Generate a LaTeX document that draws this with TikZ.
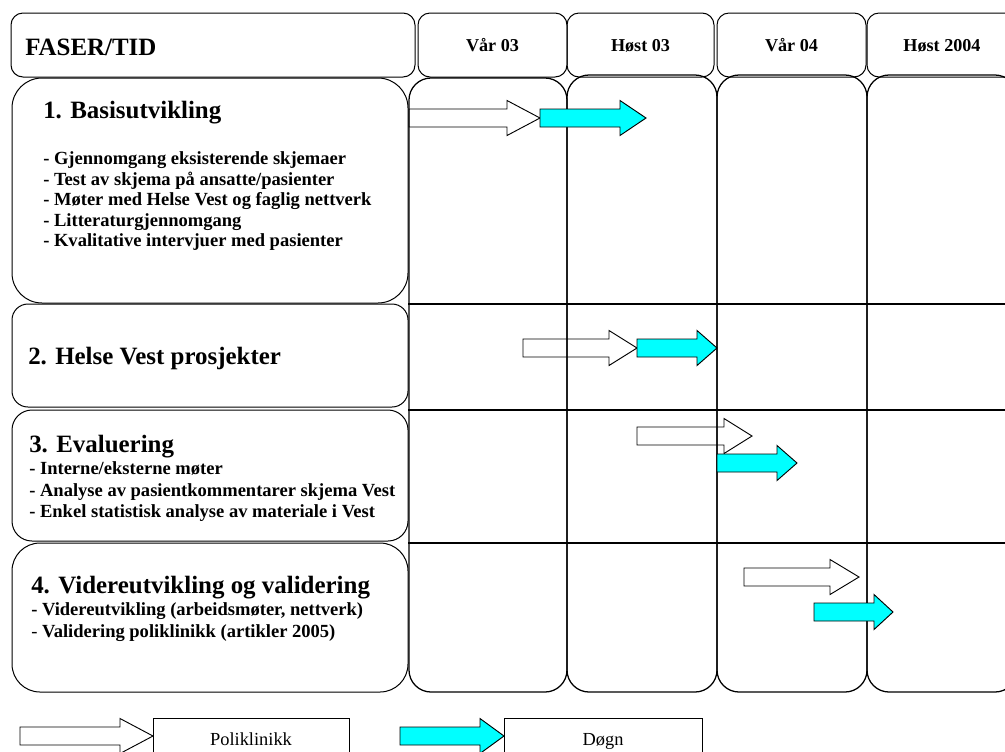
\documentclass[tikz,border=0pt]{standalone}
\usepackage{fontspec}
\setmainfont{Liberation Serif}
\definecolor{aqua}{HTML}{00FFFF}
\newcommand\pxbox[7]{\node[frame, #7, rounded corners=#6*0.75pt, minimum width={(#4-#2)*0.75pt}, minimum height={(#5-#3)*0.75pt}] (#1) at (#2,#3) {};}
\newcommand\blockarr[5]{\draw[#5] (#1,#4-9) -- (#3,#4-9) -- (#3,#4-17.5) -- (#2,#4) -- (#3,#4+17.5) -- (#3,#4+9) -- (#1,#4+9) -- cycle;}
\begin{document}
\begin{tikzpicture}[x=0.75pt,y=-0.75pt,
  frame/.style={draw, line width=0.75pt, inner sep=0pt, outer sep=0pt, anchor=north west},
  colbox/.style={line width=0.95pt},
  hdrtxt/.style={font=\fontsize{13.6}{16}\selectfont\bfseries, text height=10pt, text depth=0pt},
  headtxt/.style={font=\fontsize{18.7}{22}\selectfont\bfseries, anchor=base west, inner sep=0pt},
  bultxt/.style={font=\fontsize{13.9}{16}\selectfont\bfseries, anchor=base west, inner sep=0pt},
  legtxt/.style={font=\fontsize{13.8}{16}\selectfont, text height=9.5pt, text depth=0pt},
  rowline/.style={line width=0.8pt},
  whitearr/.style={draw, line width=0.7pt},
  cyanarr/.style={draw, line width=0.7pt, fill=aqua}]
\useasboundingbox (0,0) rectangle (1005,751);
\clip (0,0) rectangle (1005,751);
% column boxes
\pxbox{c1}{409}{78}{567}{692}{22}{colbox}
\pxbox{c2}{567}{75}{717}{692}{22}{colbox}
\pxbox{c3}{717}{75}{867}{692}{22}{colbox}
\pxbox{c4}{867}{75}{1017}{692}{22}{colbox}
% header boxes
\pxbox{h0}{11}{13}{415}{77}{12}{}
\node[frame, rounded corners=9pt, minimum width={(567-418)*0.75pt}, minimum height={64*0.75pt}, hdrtxt] (h1) at (418,13) {Vår 03};
\node[frame, rounded corners=9pt, minimum width={(714-567)*0.75pt}, minimum height={64*0.75pt}, hdrtxt] (h2) at (567,13) {Høst 03};
\node[frame, rounded corners=9pt, minimum width={(866-717)*0.75pt}, minimum height={64*0.75pt}, hdrtxt] (h3) at (717,13) {Vår 04};
\node[frame, rounded corners=9pt, minimum width={(1017-867)*0.75pt}, minimum height={64*0.75pt}, hdrtxt] (h4) at (867,13) {Høst 2004};
\node[headtxt] (ft) at (25,55) {FASER/TID};
% phase boxes
\pxbox{p1}{12}{78}{408}{303}{30}{fill=white}
\pxbox{p2}{12}{304}{408}{407}{16}{fill=white}
\pxbox{p3}{12}{410}{408}{541}{20}{fill=white}
\pxbox{p4}{12}{543}{408}{692}{28}{fill=white}
% row lines
\draw[rowline] (p2.north east) -- (p2.north east -| c4.east);
\draw[rowline] (p3.north east) -- (p3.north east -| c4.east);
\draw[rowline] (p4.north east) -- (p4.north east -| c4.east);
% phase texts
\node[headtxt] (t1) at (43,118) {1. Basisutvikling};
\node[bultxt] (t1a) at (43,164) {- Gjennomgang eksisterende skjemaer};
\node[bultxt] (t1b) at (43,185) {- Test av skjema på ansatte/pasienter};
\node[bultxt] (t1c) at (43,205) {- Møter med Helse Vest og faglig nettverk};
\node[bultxt] (t1d) at (43,226) {- Litteraturgjennomgang};
\node[bultxt] (t1e) at (43,246) {- Kvalitative intervjuer med pasienter};
\node[headtxt] (t2) at (28,364) {2. Helse Vest prosjekter};
\node[headtxt] (t3) at (29,452) {3. Evaluering};
\node[bultxt] (t3a) at (29,474) {- Interne/eksterne møter};
\node[bultxt] (t3b) at (29,496) {- Analyse av pasientkommentarer skjema Vest};
\node[bultxt] (t3c) at (29,517) {- Enkel statistisk analyse av materiale i Vest};
\node[headtxt] (t4) at (31,593) {4. Videreutvikling og validering};
\node[bultxt] (t4a) at (31,615) {- Videreutvikling (arbeidsmøter, nettverk)};
\node[bultxt] (t4b) at (31,637) {{\mdseries -} Validering poliklinikk (artikler 2005)};
% arrows
\blockarr{409}{540}{507}{118}{whitearr}
\blockarr{540}{646}{620}{118}{cyanarr}
\blockarr{523}{637}{609}{348}{whitearr}
\blockarr{637}{717}{697}{348}{cyanarr}
\blockarr{637}{752}{724}{436}{whitearr}
\blockarr{717}{797}{777}{463}{cyanarr}
\blockarr{744}{859}{830}{577}{whitearr}
\blockarr{814}{893}{874}{612}{cyanarr}
% legend
\blockarr{20}{153}{120}{736}{whitearr}
\node[frame, minimum width={(349-153)*0.75pt}, minimum height={42*0.75pt}, legtxt] (lp) at (153,718) {Poliklinikk};
\blockarr{400}{504}{480}{736}{cyanarr}
\node[frame, minimum width={(702-504)*0.75pt}, minimum height={42*0.75pt}, legtxt] (ld) at (504,718) {Døgn};
\end{tikzpicture}
\end{document}
